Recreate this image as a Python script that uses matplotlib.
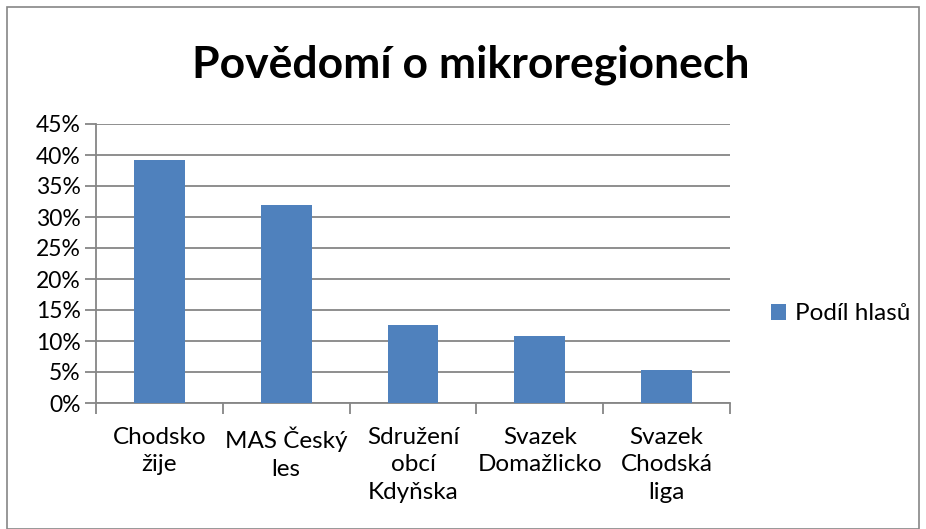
import matplotlib.pyplot as plt
from matplotlib.patches import Rectangle

kategorie = ["Chodsko\nžije", "MAS Český\nles", "Sdružení\nobcí\nKdyňska", "Svazek\nDomažlicko", "Svazek\nChodská\nliga"]
podil = [39.2, 32.0, 12.6, 10.8, 5.4]
yticks = [0, 5, 10, 15, 20, 25, 30, 35, 40, 45]
ytick_labels = [f"{v}%" for v in yticks]

plt.rcParams['font.family'] = ['Lato', 'DejaVu Sans']

fig = plt.figure(figsize=(9.26, 5.29), dpi=100)
ax = fig.add_axes([96 / 926, 1 - 403 / 529, (730 - 96) / 926, (403 - 124) / 529])

x = list(range(len(kategorie)))
ax.bar(x, podil, width=0.4, color='#4f81bd', label='Podíl hlasů', zorder=3)

ax.set_xlim(-0.5, len(kategorie) - 0.5)
ax.set_ylim(0, 45)
ax.set_yticks(yticks)
ax.set_yticklabels(ytick_labels, fontsize=16.5)
ax.yaxis.grid(True, color='#868686', linewidth=1.3, zorder=0)

# ticks na hranicich kategorii
ax.set_xticks([i - 0.5 for i in range(len(kategorie) + 1)])
ax.set_xticklabels([])
ax.set_xticks(x, minor=True)
ax.set_xticklabels(kategorie, minor=True, fontsize=17.5, linespacing=1.38)
ax.tick_params(axis='x', which='minor', length=0, pad=17)
ax.tick_params(axis='x', which='major', length=8, width=1.3, color='#868686', direction='out')
ax.tick_params(axis='y', length=8, width=1.3, color='#868686', direction='out', pad=3)

for s in ['top', 'right']:
    ax.spines[s].set_visible(False)
for s in ['left', 'bottom']:
    ax.spines[s].set_color('#868686')
    ax.spines[s].set_linewidth(1.3)

fig.text(471 / 926, 1 - 65 / 529, 'Povědomí o mikroregionech', ha='center', va='center',
         fontsize=32, fontweight='bold')

fig.legend(loc='center left', bbox_to_anchor=(771 / 926, 1 - 314 / 529), frameon=False,
           fontsize=17.5, handlelength=0.62, handleheight=0.62, handletextpad=0.35,
           borderpad=0, borderaxespad=0)

fig.patches.append(Rectangle((7 / 926, 0), 1 - 14 / 926, 1 - 7 / 529, transform=fig.transFigure,
                             fill=False, edgecolor='#868686', linewidth=1.2))

fig.savefig('out.png', dpi=100)
